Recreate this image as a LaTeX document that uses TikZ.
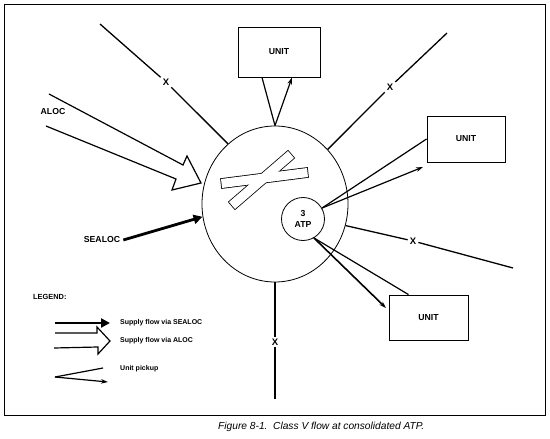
\documentclass[tikz,border=0pt]{standalone}
\usepackage{fontspec}
\setmainfont{Liberation Sans}
\usetikzlibrary{arrows.meta,shapes.geometric}
\begin{document}
\begin{tikzpicture}[x=1pt,y=-1pt,
  lbl/.style={font=\bfseries\fontsize{7}{8.5}\selectfont, inner sep=0pt},
  biglbl/.style={font=\bfseries\fontsize{8.7}{10}\selectfont, inner sep=0pt},
  xmark/.style={font=\bfseries\fontsize{9.5}{10}\selectfont, inner sep=2pt},
  flow/.style={line width=1.3pt},
  unitbox/.style={draw, line width=0.9pt, biglbl},
  pick/.style={line width=1.2pt, -{Stealth[length=7pt,width=4.5pt]}},
  sea/.style={line width=2.8pt, -{Triangle[length=9pt,width=9pt]}},
  aloc/.style={line width=1.2pt, line join=miter},
  thinline/.style={line width=0.8pt},
]
\useasboundingbox (0,0) rectangle (550,439);
\draw[line width=1pt] (4,4) rectangle (545,415);

% hub and ATP
\node[draw, ellipse, thinline, minimum width=146pt, minimum height=156pt, inner sep=0pt] (hub) at (275,204) {};
\node[draw, circle, thinline, minimum size=43pt, inner sep=0pt, biglbl, align=center] (atp) at (303,219) {3\\[1pt]ATP};

% crossed bars
\draw[line width=1.6pt, line join=miter] (221,179) -- (307,168) -- (308,177) -- (222,188) -- cycle;
\draw[line width=1.6pt, line join=miter] (229,202) -- (288,151) -- (294,158) -- (235,209) -- cycle;
\fill[white] (221,179) -- (307,168) -- (308,177) -- (222,188) -- cycle;
\fill[white] (229,202) -- (288,151) -- (294,158) -- (235,209) -- cycle;

% units
\node[unitbox, minimum width=82pt, minimum height=50pt] (utop) at (279,52) {UNIT};
\node[unitbox, minimum width=78pt, minimum height=46pt] (uright) at (466,139) {UNIT};
\node[unitbox, minimum width=79pt, minimum height=45pt] (ubot) at (428.5,317.5) {UNIT};

% X lines
\coordinate (tl) at (100,24);
\node[xmark] (x1) at (166,82) {X};
\draw[flow] (tl) -- (x1);
\draw[flow] (x1) -- (hub.128);

\coordinate (tr) at (447,33);
\node[xmark] (x2) at (390,87) {X};
\draw[flow] (tr) -- (x2);
\draw[flow] (x2) -- (hub.46);

\coordinate (rr) at (513,268);
\node[xmark] (x3) at (413,241) {X};
\draw[flow] (rr) -- (x3);
\draw[flow] (x3) -- (hub.-17);

\coordinate (bb) at (275,399);
\node[xmark] (x4) at (275,342) {X};
\draw[flow] (bb) -- (x4);
\draw[flow] (x4) -- (hub.south);

% unit pickups
\draw[line width=1.2pt] ([xshift=-17pt]utop.south) -- (hub.north);
\draw[pick] (hub.north) -- ([xshift=13pt]utop.south);

\coordinate (rarr) at (423,167);
\draw[line width=1.2pt] (uright.west) -- (atp.30);
\draw[pick] (atp.30) -- (rarr);

\coordinate (barr) at (386,308);
\draw[line width=1.2pt] ([xshift=-20pt]ubot.north) -- (atp.-60);
\draw[pick, line width=1.6pt] (atp.-60) -- (barr);

% ALOC
\node[biglbl] (aloc) at (53,112) {ALOC};
\draw[aloc] (49,94) -- (183,165) -- (187,156) -- (201,183) -- (172,190) -- (176,179) -- (46,126);

% SEALOC
\node[biglbl] (sealoc) at (102,240) {SEALOC};
\draw[sea] ([xshift=3pt]sealoc.east) -- (hub.190);

% legend
\node[lbl, font=\bfseries\fontsize{7.4}{8.5}\selectfont, anchor=west] (legend) at (33,297) {LEGEND:};
\draw[sea] (55,323) -- (110,323);
\node[lbl, anchor=west] (l1) at (120,323) {Supply flow via SEALOC};
\draw[aloc] (55,333) -- (97,333) -- (97,327) -- (110,341) -- (98,354) -- (98,347) -- (54,348);
\node[lbl, anchor=west] (l2) at (120,341) {Supply flow via ALOC};
\draw[line width=1.2pt] (103,368) -- (55,377);
\draw[pick] (55,377) -- (108,382);
\node[lbl, anchor=west] (l3) at (120,369) {Unit pickup};

% caption
\node[font=\itshape\fontsize{10.2}{12}\selectfont, anchor=west, inner sep=0pt] (cap) at (218,427) {Figure 8-1.\ \ Class V flow at consolidated ATP.};
\end{tikzpicture}
\end{document}
